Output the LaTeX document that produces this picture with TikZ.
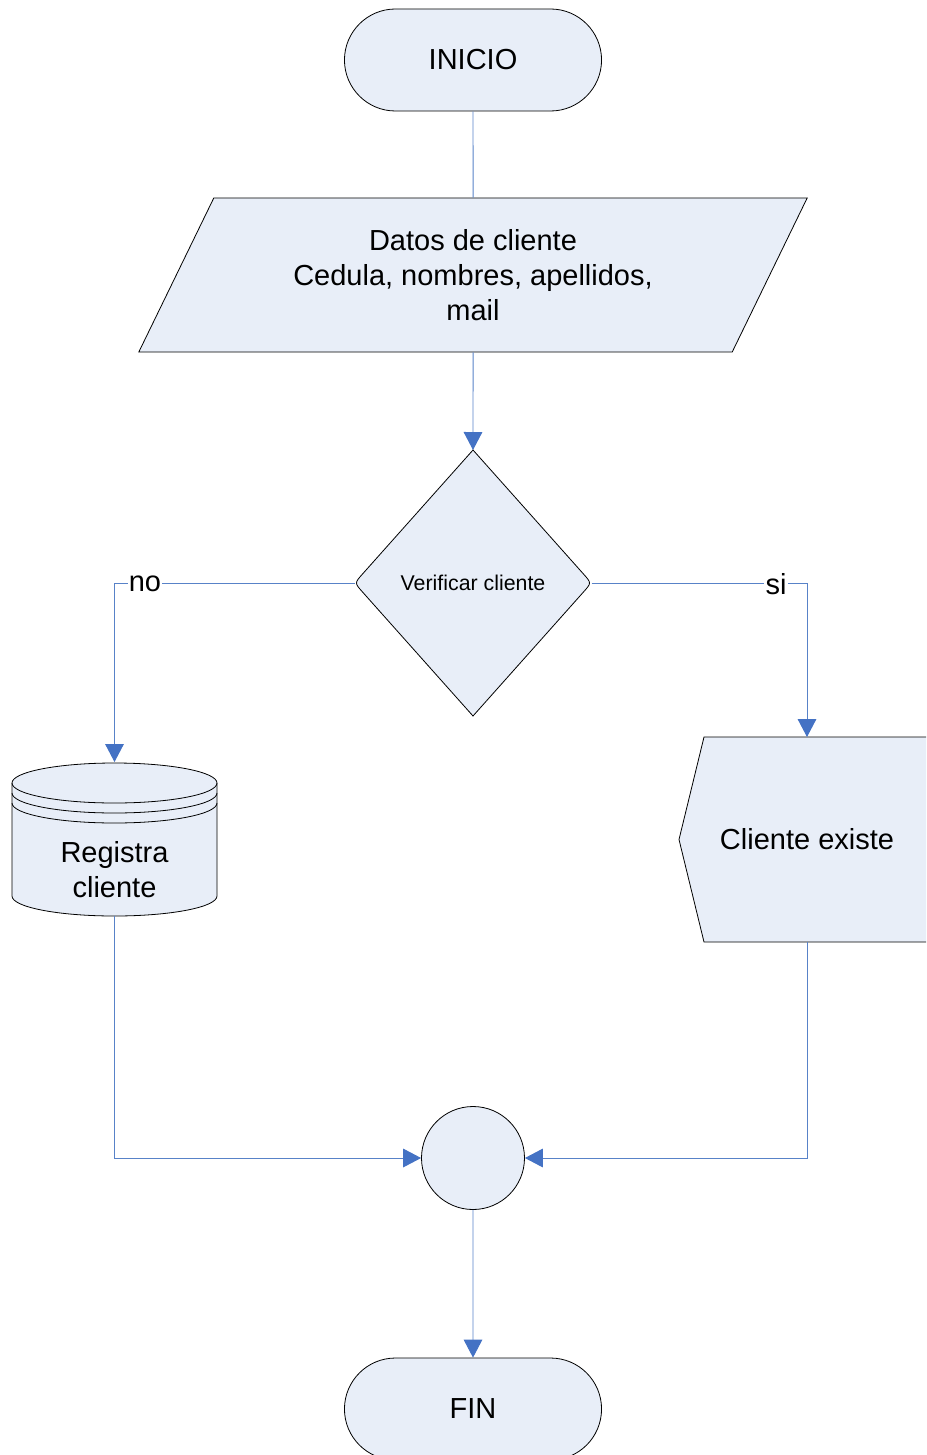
\documentclass[tikz,border=0pt]{standalone}
\usepackage{fontspec}
\setmainfont{Liberation Sans}
\usetikzlibrary{arrows.meta,shapes.geometric,shapes.misc,calc}
\definecolor{shfill}{RGB}{232,238,248}
\definecolor{lnblue}{RGB}{88,130,200}
\definecolor{tipblue}{RGB}{68,114,196}
\begin{document}
\begin{tikzpicture}[x=0.75pt,y=-0.75pt,
  shp/.style={draw=black, line width=0.6pt, fill=shfill},
  conn/.style={draw=lnblue, line width=0.7pt},
  arr/.style={conn,-{Triangle[length=13.5pt,width=14pt,color=tipblue]}},
  txt/.style={font=\fontsize{21.75pt}{26.25pt}\selectfont, align=center},
  small/.style={font=\fontsize{16pt}{19pt}\selectfont, align=center},
  lab/.style={txt, fill=white, inner sep=1pt},
  holder/.style={inner sep=0pt, outer sep=0pt},
  term/.style={shp, rounded rectangle, minimum width=199.5pt, minimum height=76.5pt, txt}
]
\useasboundingbox (0,0) rectangle (926,1455);

% INICIO
\node[term] (ini) at (473,60) {INICIO};

% Datos de cliente
\node[shp, trapezium, trapezium left angle=62, trapezium right angle=118,
      trapezium stretches=true, minimum width=504pt, minimum height=115.5pt, txt]
      (datos) at (473,275) {Datos de cliente\\Cedula, nombres, apellidos,\\mail};

% Verificar cliente (diamond with rounded side corners)
\node[holder, minimum width=177.75pt, minimum height=199.5pt] (ver) at (473,583) {};
\draw[shp] (ver.north) -- ($(ver.east)!9pt!(ver.north)$) .. controls (ver.east) .. ($(ver.east)!9pt!(ver.south)$)
  -- (ver.south) -- ($(ver.west)!9pt!(ver.south)$) .. controls (ver.west) .. ($(ver.west)!9pt!(ver.north)$) -- cycle;
\node[small] (vertxt) at (473,583) {Verificar cliente};

% Registra cliente (stored data / cylinder)
\node[holder, minimum width=153.75pt, minimum height=115.5pt] (reg) at (114.5,839) {};
\draw[shp] (12,783) -- (12,896) arc(180:0:102.5 and 20) -- (217,783) arc(360:180:102.5 and 20) -- cycle;
\draw[shp, fill=none] (12,783) arc(180:0:102.5 and 20);
\draw[shp, fill=none] (12,793) arc(180:0:102.5 and 20);
\draw[shp, fill=none] (12,803) arc(180:0:102.5 and 20);
\node[txt] (regtxt) at (114.5,870) {Registra\\cliente};

% Cliente existe (display)
\begin{scope}
  \clip (0,0) rectangle (926,1455);
  \draw[shp] (940,737) -- (704,737) -- (679,839.5) -- (704,942) -- (940,942);
\end{scope}
\node[holder, minimum width=150pt, minimum height=153.75pt, txt] (cli) at (807,839.5) {Cliente existe};

% connector circle
\node[shp, circle, minimum size=77.25pt, inner sep=0pt] (cir) at (473,1158) {};

% FIN
\node[term] (fin) at (473,1409) {FIN};

% connectors
\draw[conn] (ini) -- (datos);
\draw[arr] (datos) -- (ver.north);
\draw[arr] (ver.west) -| (reg.north);
\draw[arr] (ver.east) -| (cli.north);
\draw[arr] (reg.south) |- (cir.west);
\draw[arr] (cli.south) |- (cir.east);
\draw[arr] (cir) -- (fin);

% labels
\node[lab] (nolab) at (145,584) {no};
\node[lab] (silab) at (776,584) {si};
\end{tikzpicture}
\end{document}
